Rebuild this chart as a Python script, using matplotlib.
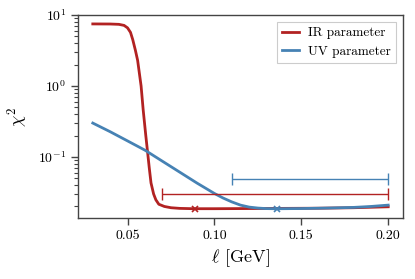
import matplotlib
matplotlib.use("Agg")
import matplotlib.pyplot as plt

plt.rcParams['font.family'] = 'serif'
plt.rcParams['font.serif'] = ['cmr10', 'DejaVu Serif']
plt.rcParams['mathtext.fontset'] = 'cm'
plt.rcParams['axes.formatter.use_mathtext'] = True
plt.rcParams['axes.unicode_minus'] = False

# IR parameter scan
ir_x = [0.030, 0.040, 0.045, 0.048, 0.050, 0.0517, 0.053, 0.0545, 0.0558, 0.0578,
        0.059, 0.0605, 0.0615, 0.0625, 0.0635, 0.065, 0.0663, 0.068, 0.0712, 0.075,
        0.080, 0.088, 0.100, 0.120, 0.140, 0.160, 0.180, 0.200]
ir_y = [7.5, 7.48, 7.4, 7.15, 6.6, 5.7, 4.5, 3.2, 2.3, 1.0,
        0.46, 0.20, 0.119, 0.070, 0.043, 0.030, 0.0248, 0.0215, 0.0200, 0.0192,
        0.0188, 0.0186, 0.0186, 0.0187, 0.0188, 0.0189, 0.0192, 0.0198]

# UV parameter scan
uv_x = [0.030, 0.040, 0.050, 0.060, 0.070, 0.080, 0.090, 0.100, 0.105, 0.110,
        0.115, 0.120, 0.125, 0.130, 0.136, 0.150, 0.165, 0.180, 0.190, 0.200]
uv_y = [0.300, 0.2265, 0.168, 0.1245, 0.0871, 0.0610, 0.0427, 0.0305, 0.0263, 0.0232,
        0.0209, 0.0196, 0.0190, 0.01866, 0.01858, 0.0187, 0.0190, 0.0194, 0.0200, 0.0209]

# minima
ir_min = (0.0887, 0.0186)
uv_min = (0.136, 0.0186)

# ranges (horizontal bars)
ir_range = (0.070, 0.200, 0.030)
uv_range = (0.110, 0.200, 0.049)

red = '#b22222'
blue = '#4682b4'

fig = plt.figure(figsize=(4.15, 2.79), dpi=100)
ax = fig.add_axes([0.188, 0.219, 0.783, 0.727])

ax.plot(ir_x, ir_y, color=red, lw=2.0, label='IR parameter')
ax.plot(uv_x, uv_y, color=blue, lw=2.0, label='UV parameter')

for (lo, hi, yv), c in [(ir_range, red), (uv_range, blue)]:
    ax.errorbar([(lo + hi) / 2], [yv], xerr=[[(hi - lo) / 2], [(hi - lo) / 2]],
                color=c, lw=1.0, capsize=4, capthick=1.0, fmt='none')

ax.plot([ir_min[0]], [ir_min[1]], marker='x', color=red, ms=5, mew=1.2, ls='none')
ax.plot([uv_min[0]], [uv_min[1]], marker='x', color=blue, ms=5, mew=1.2, ls='none')

ax.set_yscale('log')
ax.set_ylim(0.0138, 10)
ax.set_xlim(0.0215, 0.2085)
ax.set_xticks([0.05, 0.10, 0.15, 0.20])
ax.set_xticklabels(['0.05', '0.10', '0.15', '0.20'])

for s in ax.spines.values():
    s.set_color('#444444')
    s.set_linewidth(1.0)
ax.tick_params(which='major', length=5, width=1.0, color='#444444', labelsize=10)
ax.tick_params(which='minor', length=3, width=0.8, color='#444444')
ax.tick_params(axis='x', which='minor', bottom=False)

ax.set_xlabel(r'$\ell$ [GeV]', fontsize=13)
ax.set_ylabel(r'$\chi^2$', fontsize=13, labelpad=6)

leg = ax.legend(loc='upper right', fontsize=9.5, fancybox=False, framealpha=1.0,
                edgecolor='#cccccc', handlelength=1.3, borderpad=0.4,
                handletextpad=0.7)
leg.get_frame().set_linewidth(0.8)

fig.savefig('out.png', dpi=100)
